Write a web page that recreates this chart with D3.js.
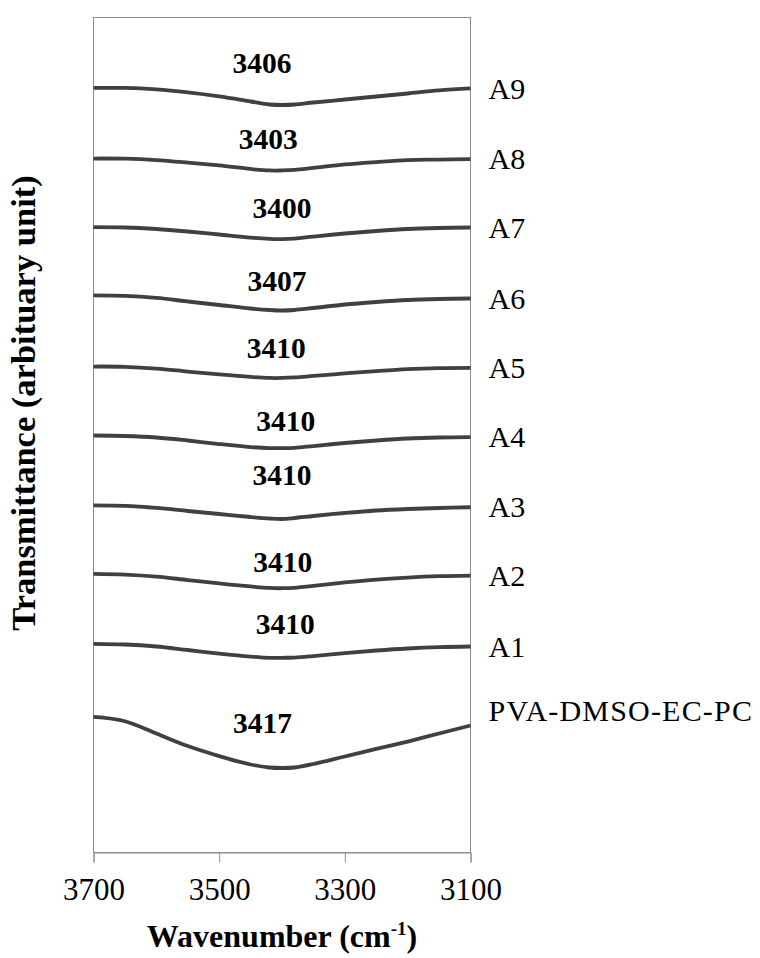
<!DOCTYPE html>
<html>
<head>
<meta charset="utf-8">
<script src="https://cdn.jsdelivr.net/npm/d3@7"></script>
<style>
  html, body { margin: 0; padding: 0; background: #fff; }
  svg { display: block; }
</style>
</head>
<body>
<svg id="chart" width="760" height="958"></svg>
<script>
// FTIR O–H stretching region, curves stacked with vertical offsets (arbitrary units)
const wavenumbers = [3700, 3650, 3600, 3550, 3500, 3450, 3420, 3400, 3380, 3350, 3300, 3250, 3200, 3150, 3100];

const seriesNames = ["A9", "A8", "A7", "A6", "A5", "A4", "A3", "A2", "A1", "PVA-DMSO-EC-PC"];

const a9  = [91.58, 91.56, 91.38, 91.02, 90.54, 89.94, 89.58, 89.52, 89.58, 89.82, 90.18, 90.54, 90.90, 91.26, 91.50];
const a8  = [83.11, 83.09, 82.93, 82.63, 82.28, 81.86, 81.68, 81.68, 81.74, 81.98, 82.40, 82.69, 82.93, 82.99, 83.05];
const a7  = [74.89, 74.85, 74.67, 74.37, 74.01, 73.65, 73.50, 73.47, 73.53, 73.77, 74.13, 74.43, 74.67, 74.79, 74.85];
const a6  = [66.71, 66.65, 66.41, 65.99, 65.57, 65.15, 64.97, 64.91, 64.97, 65.21, 65.63, 65.93, 66.17, 66.29, 66.35];
const a5  = [58.20, 58.17, 57.96, 57.60, 57.25, 56.95, 56.83, 56.83, 56.89, 57.07, 57.37, 57.66, 57.90, 58.02, 58.05];
const a4  = [49.94, 49.88, 49.70, 49.34, 48.92, 48.56, 48.44, 48.42, 48.47, 48.68, 49.04, 49.34, 49.58, 49.70, 49.74];
const a3  = [41.56, 41.50, 41.26, 40.90, 40.54, 40.18, 40.00, 39.94, 40.06, 40.30, 40.66, 40.96, 41.14, 41.26, 41.35];
const a2  = [33.38, 33.29, 33.05, 32.63, 32.22, 31.86, 31.68, 31.65, 31.70, 31.92, 32.34, 32.69, 32.93, 33.09, 33.17];
const a1  = [24.99, 24.91, 24.67, 24.25, 23.83, 23.47, 23.32, 23.32, 23.35, 23.53, 23.89, 24.19, 24.43, 24.59, 24.67];
const pva = [16.23, 15.72, 14.25, 12.75, 11.55, 10.54, 10.18, 10.12, 10.18, 10.60, 11.50, 12.40, 13.29, 14.25, 15.21];

const seriesValues = [a9, a8, a7, a6, a5, a4, a3, a2, a1, pva];

// Band position annotated above each curve
const peakValues  = [3406, 3403, 3400, 3407, 3410, 3410, 3410, 3410, 3410, 3417];
const peakLabelWn = [3432, 3422, 3400, 3408, 3409, 3394, 3400, 3399, 3395, 3431];
const peakLabelT  = [93.41, 84.31, 75.93, 67.19, 59.28, 50.42, 44.07, 33.65, 26.11, 14.37];

const xTicks = [3700, 3500, 3300, 3100];

// ---- layout ----
const svg = d3.select("#chart");
const plotLeft = 93.5, plotRight = 470.5, plotTop = 17.5, plotBottom = 852.5;
const serif = "'Liberation Serif', 'Times New Roman', Times, serif";
const frameColor = "#8c8c8c";

const x = d3.scaleLinear().domain([3700, 3100]).range([plotLeft, plotRight]);
const y = d3.scaleLinear().domain([0, 100]).range([plotBottom, plotTop]);

// plot frame
svg.append("rect")
  .attr("x", plotLeft).attr("y", plotTop)
  .attr("width", plotRight - plotLeft).attr("height", plotBottom - plotTop)
  .attr("fill", "none").attr("stroke", frameColor).attr("stroke-width", 1);

// bottom axis
const xAxis = svg.append("g")
  .attr("transform", `translate(0,${plotBottom})`)
  .call(d3.axisBottom(x).tickValues(xTicks).tickSize(10).tickFormat(d3.format("d")));
xAxis.select(".domain").attr("stroke", frameColor);
xAxis.selectAll(".tick line").attr("stroke", frameColor);
xAxis.selectAll(".tick text")
  .attr("y", 47.5).attr("dy", 0)
  .attr("fill", "#000")
  .style("font-family", serif).style("font-size", "31px");

// curves
const line = d3.line()
  .x((d, i) => x(wavenumbers[i]))
  .y(d => y(d))
  .curve(d3.curveCatmullRom.alpha(0.5));

svg.append("g").selectAll("path")
  .data(seriesValues)
  .join("path")
  .attr("d", d => line(d))
  .attr("fill", "none")
  .attr("stroke", "#404040")
  .attr("stroke-width", 3.8)
  .attr("stroke-linejoin", "round");

// peak annotations
svg.append("g").selectAll("text")
  .data(peakValues)
  .join("text")
  .attr("x", (d, i) => x(peakLabelWn[i]))
  .attr("y", (d, i) => y(peakLabelT[i]))
  .attr("text-anchor", "middle")
  .style("font-family", serif).style("font-size", "29.5px").style("font-weight", "bold")
  .text(d => d);

// series names at the right end of each curve
svg.append("g").selectAll("text")
  .data(seriesNames)
  .join("text")
  .attr("x", plotRight + 18)
  .attr("y", (d, i) => y(seriesValues[i][seriesValues[i].length - 1]) + (i === seriesNames.length - 1 ? -15 : 0))
  .attr("dy", "0.34em")
  .style("font-family", serif).style("font-size", "30px")
  .style("letter-spacing", (d, i) => i === seriesNames.length - 1 ? "1.2px" : "0px")
  .text(d => d);

// axis titles
svg.append("text")
  .attr("transform", "translate(35,403) rotate(-90)")
  .attr("text-anchor", "middle")
  .style("font-family", serif).style("font-size", "34.5px").style("font-weight", "bold")
  .text("Transmittance (arbituary unit)");

const xTitle = svg.append("text")
  .attr("x", 282).attr("y", 947)
  .attr("text-anchor", "middle")
  .style("font-family", serif).style("font-size", "32px").style("font-weight", "bold");
xTitle.append("tspan").text("Wavenumber (cm");
xTitle.append("tspan").attr("dy", "-12").style("font-size", "19px").text("-1");
xTitle.append("tspan").attr("dy", "12").text(")");
</script>
</body>
</html>
